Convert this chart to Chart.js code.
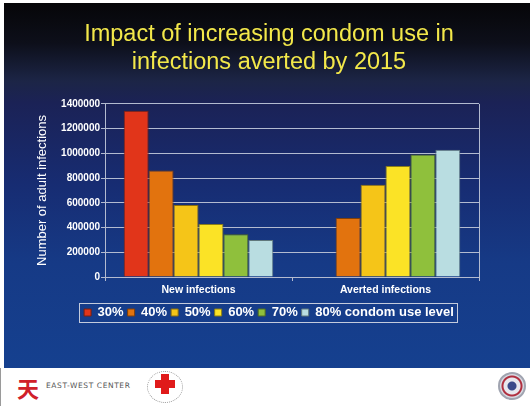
<!DOCTYPE html>
<html>
<head>
<meta charset="utf-8">
<script src="https://cdn.jsdelivr.net/npm/chart.js@4/dist/chart.umd.min.js"></script>
<style>
  html, body { margin: 0; padding: 0; background: #ffffff; }
  #page { position: relative; width: 530px; height: 406px; overflow: hidden; background: #ffffff; font-family: "Liberation Sans", Arial, sans-serif; }
  #slide { position: absolute; left: 4px; top: 3px; width: 526px; height: 365px;
    background: linear-gradient(to bottom, #060608 0px, #0d0f1a 40px, #1c2546 78px, #1b2256 100px, #172c72 180px, #163a86 260px, #15408f 365px); }
  #chart { position: absolute; left: 0; top: 0; }
  #footer { position: absolute; left: 0; top: 368px; width: 530px; height: 38px; background: #ffffff; border-left: 1px solid #9a9a9a; box-sizing: border-box; }
  #ewlogo { position: absolute; left: 16px; top: 6px; font-family: "Noto Sans CJK SC", sans-serif; color: #d0202a; font-size: 22px; line-height: 26px; font-weight: bold; }
  #ewtext { position: absolute; left: 45px; top: 13px; font-size: 7.5px; letter-spacing: 0.6px; color: #555; font-family: "DejaVu Sans", sans-serif; }
  #cross { position: absolute; left: 146px; top: 3px; width: 34px; height: 30px; border-radius: 50%; border: 1px dotted #999; }
  #cross .v { position: absolute; left: 13px; top: 2px; width: 8px; height: 20px; background: #e01a1a; }
  #cross .h { position: absolute; left: 7px; top: 8px; width: 20px; height: 8px; background: #e01a1a; }
  #seal { position: absolute; left: 497px; top: 4px; width: 28px; height: 28px; border-radius: 50%; border: 2px solid #a0a4b0; box-sizing: border-box; background: radial-gradient(circle, #3a4a8a 0 4px, #e8e8ee 5px 8px, #b03040 9px 10px, #d8dae2 11px); }
</style>
</head>
<body>
<div id="page">
  <div id="slide"></div>
  <canvas id="chart" width="530" height="368"></canvas>
  <div id="footer">
    <div id="ewlogo">天</div>
    <div id="ewtext">EAST-WEST CENTER</div>
    <div id="cross"><div class="v"></div><div class="h"></div></div>
    <div id="seal"></div>
  </div>
</div>
<script>
const categories = ['New infections', 'Averted infections'];
const levelLabels = ['30%', '40%', '50%', '60%', '70%', '80% condom use level'];
const level30 = [1345000, null];
const level40 = [862000, 478000];
const level50 = [582000, 747000];
const level60 = [428000, 898000];
const level70 = [346000, 991000];
const level80 = [299000, 1029000];
const yTicks = [0, 200000, 400000, 600000, 800000, 1000000, 1200000, 1400000];
const titleLines = ['Impact of increasing condom use in', 'infections averted by 2015'];
const yTitle = 'Number of adult infections';

const colors = ['#e1351a', '#e2730e', '#f5c518', '#fbe326', '#8fc03c', '#b9dde1'];
const borders = ['#7a2010', '#80400a', '#8a6e10', '#8a7d18', '#4e6a22', '#60787c'];
const seriesValues = [level30, level40, level50, level60, level70, level80];

const datasets = seriesValues.map((vals, i) => ({
  label: levelLabels[i],
  data: vals,
  backgroundColor: colors[i],
  borderColor: borders[i],
  borderWidth: 1,
  categoryPercentage: 0.8,
  barPercentage: 1.0
}));

const gridColor = '#b3bbd0';

const frame = {
  id: 'frame',
  afterDraw(chart) {
    const ctx = chart.ctx;
    const a = chart.chartArea;
    ctx.save();
    ctx.strokeStyle = gridColor;
    ctx.lineWidth = 1;
    ctx.beginPath();
    ctx.moveTo(Math.round(a.right) + 0.5, a.top);
    ctx.lineTo(Math.round(a.right) + 0.5, a.bottom + 4);
    ctx.stroke();
    const lg = chart.legend;
    if (lg && lg.legendHitBoxes && lg.legendHitBoxes.length) {
      const hb = lg.legendHitBoxes;
      const l = Math.min(...hb.map(h => h.left)) - 5;
      const r = Math.max(...hb.map(h => h.left + h.width)) + 3;
      const t = Math.min(...hb.map(h => h.top)) - 3;
      const b = Math.max(...hb.map(h => h.top + h.height)) + 3;
      ctx.strokeStyle = '#c4cbdc';
      ctx.strokeRect(Math.round(l) + 0.5, Math.round(t) + 0.5, Math.round(r - l), Math.round(b - t));
    }
    ctx.restore();
  }
};

new Chart(document.getElementById('chart'), {
  type: 'bar',
  data: { labels: categories, datasets },
  options: {
    responsive: false,
    animation: false,
    devicePixelRatio: 1,
    layout: { padding: { left: 31, right: 23, top: 0, bottom: 39 } },
    plugins: {
      title: {
        display: true,
        text: titleLines,
        color: '#f3e84a',
        font: { family: '"Liberation Sans", Arial, sans-serif', size: 23.5, weight: 'normal', lineHeight: 1.19 },
        padding: { top: 21, bottom: 27 }
      },
      legend: {
        position: 'bottom',
        labels: {
          color: '#ffffff',
          boxWidth: 7,
          boxHeight: 7,
          padding: 4,
          font: { family: '"Liberation Sans", Arial, sans-serif', size: 13, weight: 'bold' }
        }
      },
      tooltip: { enabled: false }
    },
    scales: {
      x: {
        offset: true,
        grid: { display: true, drawOnChartArea: false, drawTicks: true, tickLength: 4, color: gridColor },
        border: { display: true, color: gridColor },
        ticks: { color: '#ffffff', padding: 3, font: { family: '"Liberation Sans", Arial, sans-serif', size: 10.5, weight: 'bold' } },
        afterFit: s => { s.height = 25; }
      },
      y: {
        min: 0,
        max: 1400000,
        afterBuildTicks: s => { s.ticks = yTicks.map(v => ({ value: v })); },
        grid: { color: gridColor, tickLength: 4, drawTicks: true },
        border: { display: true, color: gridColor },
        ticks: {
          color: '#ffffff',
          padding: 1,
          font: { family: '"Liberation Sans", Arial, sans-serif', size: 10, weight: 'bold' },
          callback: v => String(v)
        },
        title: {
          display: true,
          text: yTitle,
          color: '#ffffff',
          padding: { top: 4, bottom: 0 },
          font: { family: '"Liberation Sans", Arial, sans-serif', size: 13, weight: 'normal' }
        },
        afterFit: s => { s.width = 74; }
      },
      yPad: {
        position: 'right',
        display: true,
        grid: { display: false },
        border: { display: false },
        ticks: { display: false },
        afterFit: s => { s.width = 28; }
      }
    }
  },
  plugins: [frame]
});
</script>
</body>
</html>
